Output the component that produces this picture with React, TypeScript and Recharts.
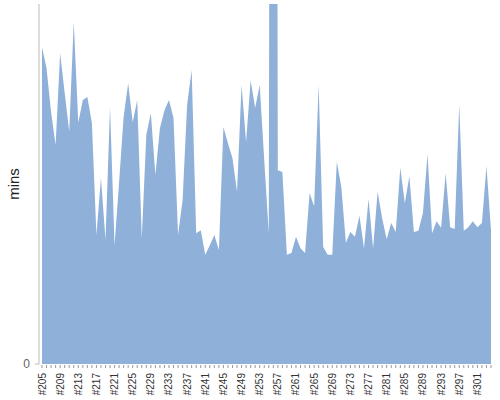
import { AreaChart, Area, XAxis, YAxis } from 'recharts';

const runs = [
  '#205', '#206', '#207', '#208', '#209', '#210', '#211', '#212', '#213', '#214',
  '#215', '#216', '#217', '#218', '#219', '#220', '#221', '#222', '#223', '#224',
  '#225', '#226', '#227', '#228', '#229', '#230', '#231', '#232', '#233', '#234',
  '#235', '#236', '#237', '#238', '#239', '#240', '#241', '#242', '#243', '#244',
  '#245', '#246', '#247', '#248', '#249', '#250', '#251', '#252', '#253', '#254',
  '#255', '#256', '#257', '#258', '#259', '#260', '#261', '#262', '#263', '#264',
  '#265', '#266', '#267', '#268', '#269', '#270', '#271', '#272', '#273', '#274',
  '#275', '#276', '#277', '#278', '#279', '#280', '#281', '#282', '#283', '#284',
  '#285', '#286', '#287', '#288', '#289', '#290', '#291', '#292', '#293', '#294',
  '#295', '#296', '#297', '#298', '#299', '#300', '#301', '#302', '#303', '#304',
];

// build duration in minutes per run
const mins = [
  52.8, 49.3, 42, 36.5, 51.8, 45.2, 38.7, 57, 40.2, 44,
  44.5, 40.2, 21.5, 31, 20.7, 42.8, 19.8, 30.3, 41.2, 46.8,
  40.3, 44, 21, 38.2, 41.8, 31.5, 39.3, 42.3, 44, 41,
  21.5, 27.3, 43.2, 49, 21.8, 22.3, 18.2, 19.8, 21.5, 19,
  39.5, 36.8, 34.3, 28.7, 46.5, 37, 47.3, 42.7, 46.5, 34,
  21.8, 420, 32.3, 32, 18.2, 18.5, 21.2, 19.3, 18.5, 28.5,
  26.3, 46.5, 19.5, 18.2, 18.2, 33.7, 29.5, 20.2, 22, 21.2,
  24.7, 19.3, 27.5, 19.3, 28.7, 24.3, 20.8, 23.5, 22, 32.7,
  26.8, 31.3, 22, 22.2, 25.2, 35, 21.8, 23.8, 22.7, 31.8,
  22.8, 22.5, 43.3, 22.2, 22.8, 23.8, 22.8, 23.5, 33, 22.3,
];

const yTicks = [0];

const data = runs.map((run, i) => ({ run, mins: mins[i] }));

const RunTick = (props: any) => {
  const { x, y, index, payload } = props;
  return (
    <g>
      <line x1={x} x2={x} y1={y - 8} y2={y - 5} stroke="#999" strokeWidth={1} />
      {index % 4 === 0 && (
        <text
          x={x}
          y={y}
          transform={`rotate(-90 ${x} ${y})`}
          textAnchor="end"
          dominantBaseline="central"
          fontSize={10}
          fill="#333"
        >
          {payload.value}
        </text>
      )}
    </g>
  );
};

export default function App() {
  return (
    <div style={{ position: 'absolute', left: 0, top: 0, fontFamily: '"Liberation Sans", Arial, sans-serif' }}>
      <AreaChart width={500} height={400} data={data} margin={{ top: 4, right: 9, left: 0, bottom: 0 }}>
        <XAxis
          dataKey="run"
          interval={0}
          axisLine={false}
          tickLine={false}
          tickSize={6}
          tickMargin={3}
          height={36}
          padding={{ left: 3, right: 0 }}
          tick={<RunTick />}
        />
        <YAxis
          width={39}
          domain={[0, 60]}
          ticks={yTicks}
          allowDataOverflow
          axisLine={{ stroke: '#bbb' }}
          tickLine={{ stroke: '#bbb' }}
          tickSize={4}
          tickMargin={5}
          tick={{ fill: '#666', fontSize: 12 }}
          label={{
            content: () => (
              <text x={18.5} y={184} transform="rotate(-90 18.5 184)" textAnchor="middle" fontSize={15} fill="#222">
                mins
              </text>
            ),
          }}
        />
        <Area
          type="linear"
          dataKey="mins"
          fill="#8fb1d9"
          fillOpacity={1}
          stroke="none"
          isAnimationActive={false}
        />
      </AreaChart>
    </div>
  );
}
